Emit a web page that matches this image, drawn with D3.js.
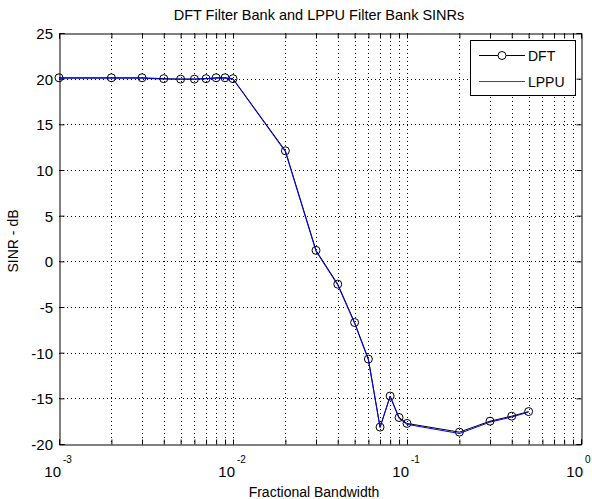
<!DOCTYPE html>
<html><head><meta charset="utf-8">
<script src="https://cdn.jsdelivr.net/npm/d3@7"></script>
<style>body{margin:0;background:#fff}svg{display:block}text{font-family:"Liberation Sans",Arial,sans-serif;fill:#000}</style>
</head><body><svg id="c" width="592" height="499"></svg>
<script>
const bandwidth = [0.001,0.002,0.003,0.004,0.005,0.006,0.007,0.008,0.009,0.01,0.02,0.03,0.04,0.05,0.06,0.07,0.08,0.09,0.1,0.2,0.3,0.4,0.5];
const dftSINR  = [20.1,20.1,20.1,20.0,19.95,19.95,20.0,20.1,20.1,20.0,12.1,1.2,-2.5,-6.7,-10.7,-18.15,-14.75,-17.1,-17.75,-18.7,-17.5,-16.95,-16.45];
const lppuSINR = [20.05,20.05,20.05,19.95,19.95,19.95,20.0,20.05,20.05,19.95,12.0,1.1,-2.6,-6.8,-10.8,-18.2,-14.8,-17.2,-17.85,-18.85,-17.6,-17.05,-16.5];
const yTicks = [-20,-15,-10,-5,0,5,10,15,20,25];
const xDecades = [-3,-2,-1,0];
const seriesNames = ["DFT","LPPU"];

const svg = d3.select("#c");
const L=59,R=581,T=33,B=444;
const x = d3.scaleLog().domain([1e-3,1]).range([L,R]);
const y = d3.scaleLinear().domain([-20,25]).range([B,T]);

const xAll=[];
for(let d=-3; d<0; d++) for(let k=1;k<10;k++) xAll.push(k*Math.pow(10,d));
xAll.push(1);

const grid = svg.append("g").attr("stroke","#000").attr("stroke-width",1).attr("stroke-dasharray","1,3");
xAll.filter(v=>v>1e-3&&v<1).forEach(v=>{
  const px=Math.round(x(v))+0.5;
  grid.append("line").attr("x1",px).attr("x2",px).attr("y1",T).attr("y2",B);
});
yTicks.filter(v=>v>-20&&v<25).forEach(v=>{
  const py=Math.round(y(v))+0.5;
  grid.append("line").attr("x1",L).attr("x2",R).attr("y1",py).attr("y2",py);
});

const axB = svg.append("g").attr("transform",`translate(0,${B+0.5})`).call(d3.axisBottom(x).tickValues(xAll).tickSize(-5).tickFormat(""));
const axT = svg.append("g").attr("transform",`translate(0,${T+0.5})`).call(d3.axisTop(x).tickValues(xAll).tickSize(-5).tickFormat(""));
const axL = svg.append("g").attr("transform",`translate(${L+0.5},0)`).call(d3.axisLeft(y).tickValues(yTicks).tickSize(-5).tickFormat(""));
const axR = svg.append("g").attr("transform",`translate(${R+0.5},0)`).call(d3.axisRight(y).tickValues(yTicks).tickSize(-5).tickFormat(""));
[axB,axT,axL,axR].forEach(a=>{a.selectAll("path,line").attr("stroke","#000");});

svg.append("g").selectAll("text").data(yTicks).join("text")
  .attr("x",L-6).attr("y",d=>y(d)+6).attr("text-anchor","end").attr("font-size",15).text(d=>d);

const xl = svg.append("g").selectAll("g").data(xDecades).join("g")
  .attr("transform",d=>`translate(${x(Math.pow(10,d))},0)`);
xl.append("text").attr("x",2).attr("y",477).attr("text-anchor","end").attr("font-size",15).text("10");
xl.append("text").attr("x",4).attr("y",463).attr("font-size",10).text(d=>d===0?"0":"-"+(-d));

svg.append("text").attr("x",319).attr("y",20).attr("text-anchor","middle").attr("font-size",14.5).text("DFT Filter Bank and LPPU Filter Bank SINRs");
svg.append("text").attr("x",314).attr("y",497).attr("text-anchor","middle").attr("font-size",14).text("Fractional Bandwidth");
svg.append("text").attr("transform","translate(18,241) rotate(-90)").attr("text-anchor","middle").attr("font-size",14).text("SINR - dB");

const line = d3.line().x(d=>x(d[0])).y(d=>y(d[1]));
const dft = bandwidth.map((b,i)=>[b,dftSINR[i]]);
const lppu = bandwidth.map((b,i)=>[b,lppuSINR[i]]);
svg.append("path").datum(dft).attr("d",line).attr("fill","none").attr("stroke","#000").attr("stroke-width",1);
svg.append("g").selectAll("circle").data(dft).join("circle")
  .attr("cx",d=>x(d[0])).attr("cy",d=>y(d[1])).attr("r",4).attr("fill","none").attr("stroke","#000").attr("stroke-width",1);
svg.append("path").datum(lppu).attr("d",line).attr("fill","none").attr("stroke","#0000ff").attr("stroke-width",1);

const lg = svg.append("g");
lg.append("rect").attr("x",470.5).attr("y",40.5).attr("width",105).attr("height",55).attr("fill","#fff").attr("stroke","#000");
lg.append("line").attr("x1",479).attr("x2",525).attr("y1",55.5).attr("y2",55.5).style("stroke","#000");
lg.append("circle").attr("cx",502).attr("cy",55.5).attr("r",4).attr("fill","#fff").attr("stroke","#000");
lg.append("line").attr("x1",479).attr("x2",525).attr("y1",81.5).attr("y2",81.5).style("stroke","#3a3ad0").style("stroke-width",1.2);
lg.append("text").attr("x",528).attr("y",61).attr("font-size",14).text(seriesNames[0]);
lg.append("text").attr("x",528).attr("y",87).attr("font-size",14).text(seriesNames[1]);
</script></body></html>
